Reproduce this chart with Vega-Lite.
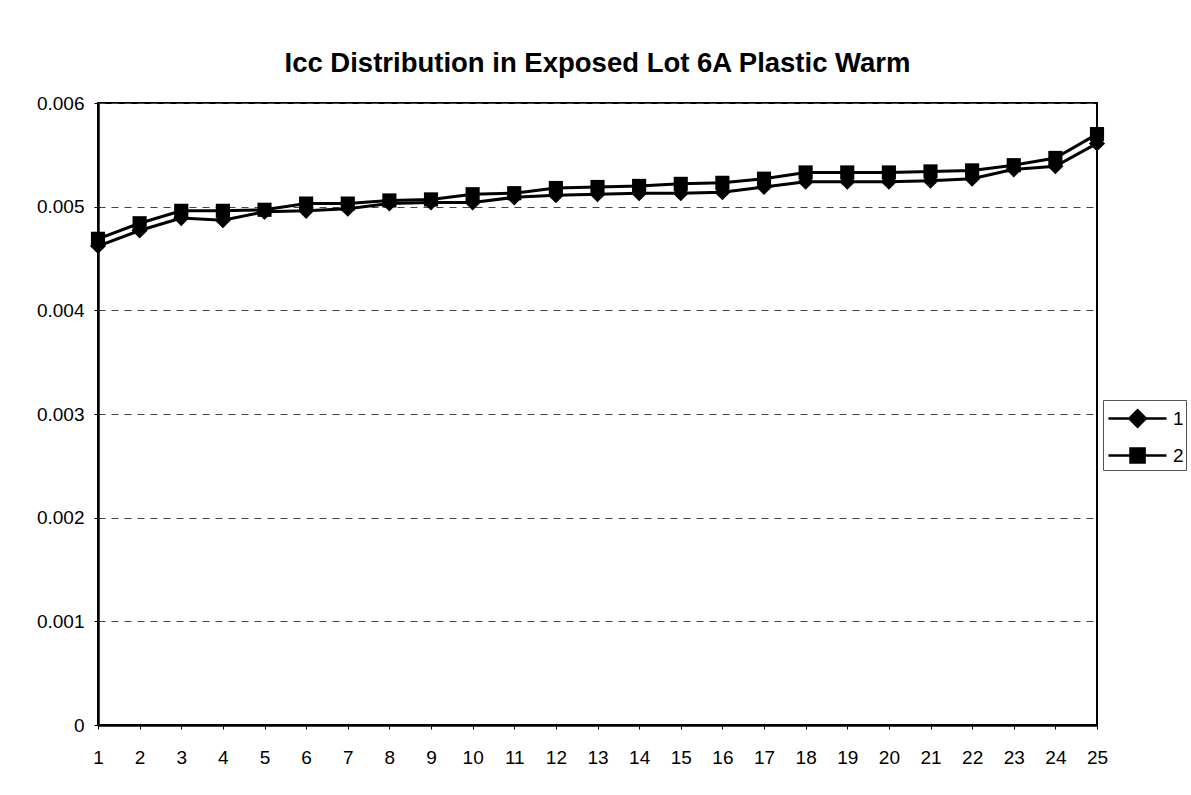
{
  "$schema": "https://vega.github.io/schema/vega-lite/v6.json",
  "width": 999,
  "height": 622,
  "autosize": {"type": "none"},
  "padding": {"left": 98, "top": 103, "right": 94, "bottom": 70},
  "background": "white",
  "title": {
    "text": "Icc Distribution in Exposed Lot 6A Plastic Warm",
    "font": "Liberation Sans",
    "fontSize": 27.5,
    "fontWeight": "bold",
    "color": "black",
    "anchor": "middle",
    "offset": 17
  },
  "config": {
    "view": {"stroke": "black", "strokeWidth": 2},
    "axis": {
      "labelFont": "Liberation Sans",
      "labelFontSize": 19,
      "labelColor": "black",
      "domainColor": "black",
      "domainWidth": 2.5,
      "tickColor": "black",
      "tickSize": 4,
      "title": null
    }
  },
  "data": {
    "values": [
      {"x": 1, "series": "1", "v": 0.00462}, {"x": 2, "series": "1", "v": 0.00477}, {"x": 3, "series": "1", "v": 0.00489}, {"x": 4, "series": "1", "v": 0.00487}, {"x": 5, "series": "1", "v": 0.00495},
      {"x": 6, "series": "1", "v": 0.00496}, {"x": 7, "series": "1", "v": 0.00498}, {"x": 8, "series": "1", "v": 0.00503}, {"x": 9, "series": "1", "v": 0.00504}, {"x": 10, "series": "1", "v": 0.00504},
      {"x": 11, "series": "1", "v": 0.00509}, {"x": 12, "series": "1", "v": 0.00511}, {"x": 13, "series": "1", "v": 0.00512}, {"x": 14, "series": "1", "v": 0.00513}, {"x": 15, "series": "1", "v": 0.00513},
      {"x": 16, "series": "1", "v": 0.00514}, {"x": 17, "series": "1", "v": 0.00519}, {"x": 18, "series": "1", "v": 0.00524}, {"x": 19, "series": "1", "v": 0.00524}, {"x": 20, "series": "1", "v": 0.00524},
      {"x": 21, "series": "1", "v": 0.00525}, {"x": 22, "series": "1", "v": 0.00527}, {"x": 23, "series": "1", "v": 0.00536}, {"x": 24, "series": "1", "v": 0.00539}, {"x": 25, "series": "1", "v": 0.00561},
      {"x": 1, "series": "2", "v": 0.00469}, {"x": 2, "series": "2", "v": 0.00484}, {"x": 3, "series": "2", "v": 0.00496}, {"x": 4, "series": "2", "v": 0.00496}, {"x": 5, "series": "2", "v": 0.00497},
      {"x": 6, "series": "2", "v": 0.00503}, {"x": 7, "series": "2", "v": 0.00503}, {"x": 8, "series": "2", "v": 0.00506}, {"x": 9, "series": "2", "v": 0.00507}, {"x": 10, "series": "2", "v": 0.00512},
      {"x": 11, "series": "2", "v": 0.00513}, {"x": 12, "series": "2", "v": 0.00518}, {"x": 13, "series": "2", "v": 0.00519}, {"x": 14, "series": "2", "v": 0.0052}, {"x": 15, "series": "2", "v": 0.00522},
      {"x": 16, "series": "2", "v": 0.00523}, {"x": 17, "series": "2", "v": 0.00527}, {"x": 18, "series": "2", "v": 0.00533}, {"x": 19, "series": "2", "v": 0.00533}, {"x": 20, "series": "2", "v": 0.00533},
      {"x": 21, "series": "2", "v": 0.00534}, {"x": 22, "series": "2", "v": 0.00535}, {"x": 23, "series": "2", "v": 0.0054}, {"x": 24, "series": "2", "v": 0.00547}, {"x": 25, "series": "2", "v": 0.0057}
    ]
  },
  "encoding": {
    "x": {
      "field": "x",
      "type": "ordinal",
      "scale": {"type": "point", "padding": 0},
      "axis": {"labelAngle": 0, "labelPadding": 19, "grid": false}
    },
    "y": {
      "field": "v",
      "type": "quantitative",
      "scale": {"domain": [0, 0.006], "nice": false, "zero": true},
      "axis": {
        "values": [0, 0.001, 0.002, 0.003, 0.004, 0.005, 0.006],
        "format": "~g",
        "labelPadding": 10,
        "grid": true,
        "gridColor": "#444",
        "gridDash": [7, 6],
        "gridWidth": 1
      }
    }
  },
  "layer": [
    {
      "mark": {"type": "line", "strokeWidth": 3, "color": "black"},
      "encoding": {
        "color": {
          "field": "series",
          "type": "nominal",
          "scale": {"domain": ["1", "2"], "range": ["black", "black"]},
          "legend": {
            "orient": "none",
            "legendX": 1005,
            "legendY": 297,
            "title": null,
            "padding": 2,
            "strokeColor": "#555",
            "fillColor": "white",
            "symbolSize": 900,
            "labelFont": "Liberation Sans",
            "labelFontSize": 19,
            "labelColor": "black",
            "labelOffset": 35,
            "rowPadding": 7,
            "encode": {
              "symbols": {
                "update": {
                  "shape": {"signal": "datum.value == '1' ? 'M-0.87,0L3,0M1.07,-0.55L1.62,0L1.07,0.55L0.52,0Z' : 'M-0.87,0L3,0M0.6,-0.47L1.54,-0.47L1.54,0.47L0.6,0.47Z'"},
                  "fill": {"value": "black"},
                  "stroke": {"value": "black"},
                  "strokeWidth": {"value": 2.5},
                  "opacity": {"value": 1},
                  "fillOpacity": {"value": 1}
                }
              }
            }
          }
        }
      }
    },
    {
      "transform": [{"filter": "datum.series == '1'"}],
      "mark": {"type": "point", "shape": "diamond", "size": 260, "filled": true, "opacity": 1, "color": "black"}
    },
    {
      "transform": [{"filter": "datum.series == '2'"}],
      "mark": {"type": "point", "shape": "square", "size": 200, "filled": true, "opacity": 1, "color": "black"}
    }
  ]
}
